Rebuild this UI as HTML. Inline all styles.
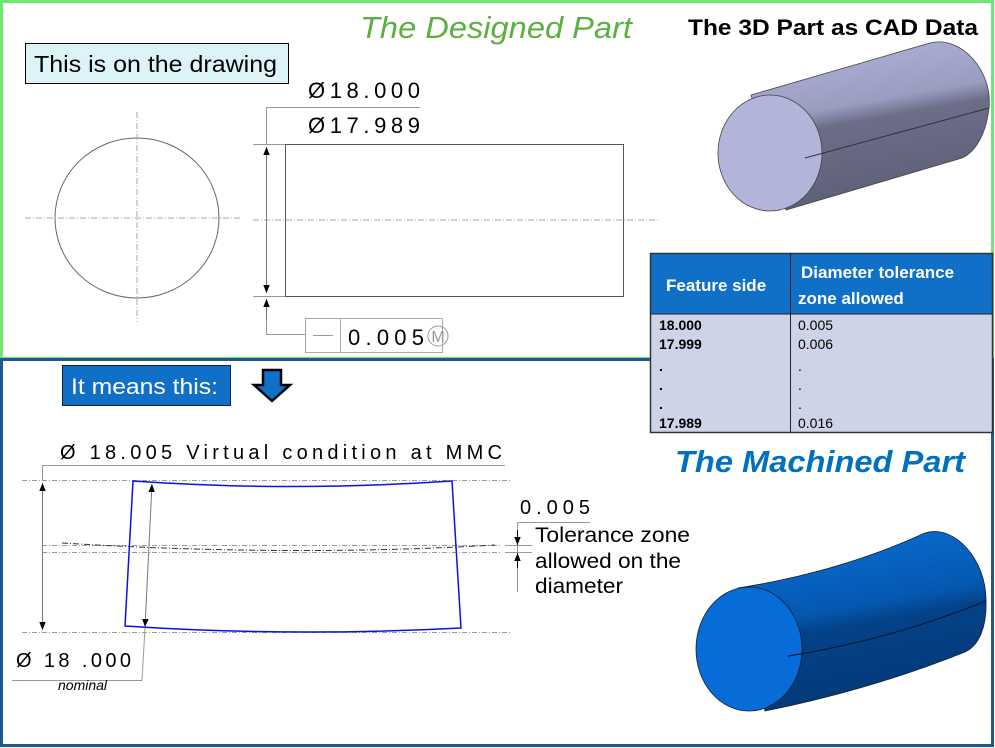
<!DOCTYPE html>
<html><head><meta charset="utf-8"><style>
html,body{margin:0;padding:0;background:#fff;}
svg{display:block;font-family:"Liberation Sans",sans-serif;}
</style></head><body>
<svg width="995" height="748" viewBox="0 0 995 748" xmlns="http://www.w3.org/2000/svg">
<defs>
<linearGradient id="gg" x1="0" y1="0" x2="0.25" y2="1"><stop offset="0" stop-color="#b4b6dc"/><stop offset="0.45" stop-color="#9a9cc0"/><stop offset="0.55" stop-color="#6c6e88"/><stop offset="1" stop-color="#5e6078"/></linearGradient>
<linearGradient id="bg" x1="0" y1="0" x2="0.25" y2="1"><stop offset="0" stop-color="#0a70d8"/><stop offset="0.5" stop-color="#0558b0"/><stop offset="0.6" stop-color="#044288"/><stop offset="1" stop-color="#033a78"/></linearGradient>
<marker id="a" viewBox="0 0 10 10" refX="10" refY="5" markerWidth="8" markerHeight="14" orient="auto-start-reverse" markerUnits="userSpaceOnUse"><path d="M0,1 L10,5 L0,9z" fill="#000"/></marker>
</defs>
<rect x="0" y="0" width="995" height="748" fill="#fff"/>
<rect x="1.5" y="1.5" width="991" height="357" fill="none" stroke="#6ee86e" stroke-width="3"/>
<rect x="1.5" y="359.5" width="991" height="386" fill="none" stroke="#1d5a94" stroke-width="3"/>

<text x="360" y="38" font-size="31" font-style="italic" fill="#5cb040" textLength="272" lengthAdjust="spacingAndGlyphs">The Designed Part</text>
<rect x="25.5" y="43.5" width="263" height="40" fill="#dcf4f8" stroke="#000"/>
<text x="34" y="72" font-size="23" textLength="243" lengthAdjust="spacingAndGlyphs">This is on the drawing</text>
<text x="688" y="35" font-size="22" font-weight="bold" textLength="290" lengthAdjust="spacingAndGlyphs">The 3D Part as CAD Data</text>

<ellipse cx="137" cy="218" rx="82" ry="80" fill="none" stroke="#666"/>
<g stroke="#aaa" stroke-dasharray="6,2,1,2" fill="none">
<line x1="137" y1="112" x2="137" y2="322"/><line x1="25" y1="218" x2="240" y2="218"/>
<line x1="253" y1="220" x2="660" y2="220"/>
</g>
<rect x="285.5" y="144.5" width="338" height="152" fill="none" stroke="#555"/>
<g stroke="#999" fill="none">
<line x1="253" y1="144.5" x2="285" y2="144.5"/><line x1="253" y1="296.5" x2="285" y2="296.5"/>
<polyline points="266.5,144 266.5,107.5 420,107.5"/>
<polyline points="266.5,300 266.5,334.5 305,334.5"/>
</g>
<line x1="266.5" y1="147" x2="266.5" y2="293" stroke="#777" marker-start="url(#a)" marker-end="url(#a)"/>
<line x1="266.5" y1="320" x2="266.5" y2="299" stroke="#777" marker-end="url(#a)"/>
<text x="308" y="98" font-size="22" textLength="112">Ø18.000</text>
<text x="308" y="133" font-size="22" textLength="112">Ø17.989</text>
<rect x="305.5" y="318.5" width="137" height="34" fill="#fff" stroke="#aaa"/>
<line x1="340.5" y1="318" x2="340.5" y2="352" stroke="#aaa"/>
<line x1="313" y1="335.5" x2="333" y2="335.5" stroke="#999"/>
<text x="348" y="345" font-size="22" textLength="76">0.005</text>
<circle cx="438" cy="336" r="10" fill="none" stroke="#999"/>
<text x="438" y="342" font-size="16" fill="#999" text-anchor="middle">M</text>

<!-- gray cylinder -->
<path d="M751,95 L930,43 C962,35 993,72 989,108 C986,135 975,152 962,158 L786,210 Z" fill="url(#gg)" stroke="#444" stroke-width="0.8"/>
<ellipse cx="770" cy="153" rx="52" ry="58" fill="#b3b4da" stroke="#444" stroke-width="0.8"/>
<line x1="805" y1="158" x2="989" y2="108" stroke="#333"/>

<rect x="650" y="253" width="343" height="61" fill="#1070c8"/>
<rect x="650" y="314" width="343" height="119" fill="#cdd4e8"/>
<rect x="650.5" y="253.5" width="342" height="179" fill="none" stroke="#333" stroke-width="1.5"/>
<line x1="650" y1="314" x2="993" y2="314" stroke="#222"/>
<line x1="790.5" y1="253" x2="790.5" y2="433" stroke="#222"/>
<g fill="#fff" font-weight="bold" font-size="17"><text x="666" y="291">Feature side</text><text x="801" y="278">Diameter tolerance</text><text x="798" y="304">zone allowed</text></g>
<g font-size="14"><g font-weight="bold"><text x="659" y="330">18.000</text><text x="659" y="349">17.999</text><text x="659" y="371">.</text><text x="659" y="390">.</text><text x="659" y="409">.</text><text x="659" y="428">17.989</text></g>
<text x="798" y="330">0.005</text><text x="798" y="349">0.006</text><text x="798" y="371">.</text><text x="798" y="390">.</text><text x="798" y="409">.</text><text x="798" y="428">0.016</text></g>

<rect x="62.5" y="365.5" width="168" height="40" fill="#1070c8" stroke="#123"/>
<text x="71" y="394" font-size="22" fill="#fff" textLength="147" lengthAdjust="spacingAndGlyphs">It means this:</text>
<path d="M263,370 L281,370 L281,385 L290,385 L272,401 L254,385 L263,385Z" fill="#1070c8" stroke="#000" stroke-width="2.5"/>

<text x="675" y="472" font-size="31" font-style="italic" font-weight="bold" fill="#0070c0" textLength="290" lengthAdjust="spacingAndGlyphs">The Machined Part</text>

<text x="60" y="459" font-size="20" textLength="442">Ø 18.005 Virtual condition at MMC</text>
<polyline points="42.5,480 42.5,465.5 505,465.5" fill="none" stroke="#999"/>
<g stroke="#999" stroke-dasharray="5,2,1,2" fill="none">
<line x1="22" y1="480.5" x2="510" y2="480.5"/><line x1="22" y1="632.5" x2="510" y2="632.5"/>
<line x1="42" y1="545.5" x2="500" y2="545.5"/><line x1="42" y1="552.5" x2="500" y2="552.5"/>
</g>
<path d="M62,543 Q290,557 495,545" fill="none" stroke="#333" stroke-dasharray="6,2,1,2"/>
<line x1="42.5" y1="483" x2="42.5" y2="630" stroke="#777" marker-start="url(#a)" marker-end="url(#a)"/>
<path d="M133,481 Q290,492 452,481 L461,628 Q290,637 125,626 Z" fill="none" stroke="#1010e0" stroke-width="1.5"/>
<line x1="152" y1="484" x2="145" y2="627" stroke="#777" marker-start="url(#a)" marker-end="url(#a)"/>
<polyline points="145,628 142,680.5 12,680.5" fill="none" stroke="#999"/>
<text x="16" y="667" font-size="20" textLength="115">Ø 18 .000</text>
<text x="58" y="690" font-size="14" font-style="italic">nominal</text>
<text x="520" y="514" font-size="20" textLength="70">0.005</text>
<polyline points="590,522.5 517.5,522.5 517.5,592" fill="none" stroke="#999"/>
<line x1="505" y1="545.5" x2="532" y2="545.5" stroke="#999"/><line x1="505" y1="552.5" x2="532" y2="552.5" stroke="#999"/>
<line x1="517.5" y1="530" x2="517.5" y2="545" stroke="#000" marker-end="url(#a)"/>
<line x1="517.5" y1="568" x2="517.5" y2="553" stroke="#000" marker-end="url(#a)"/>
<g font-size="21"><text x="535" y="542" textLength="155" lengthAdjust="spacingAndGlyphs">Tolerance zone</text><text x="535" y="568" textLength="146" lengthAdjust="spacingAndGlyphs">allowed on the</text><text x="535" y="593" textLength="88" lengthAdjust="spacingAndGlyphs">diameter</text></g>

<!-- blue cylinder -->
<path d="M738,588 Q840,572 925,533 C955,524 986,560 986,600 C987,625 980,645 965,652 Q870,690 765,711 Z" fill="url(#bg)" stroke="#123" stroke-width="0.8"/>
<ellipse cx="749" cy="649" rx="53" ry="62" fill="#086cd8" stroke="#123" stroke-width="0.8"/>
<path d="M788,656 Q890,640 986,601" fill="none" stroke="#0a1a30" stroke-width="1.2"/>
</svg>
</body></html>
